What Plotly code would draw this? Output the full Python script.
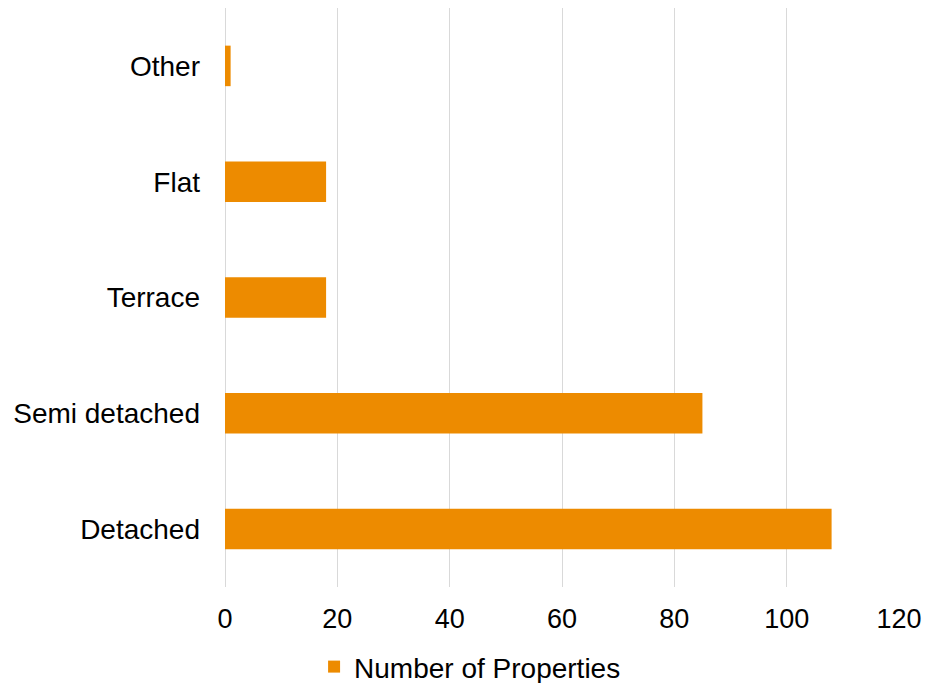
import plotly.graph_objects as go

categories = ["Detached", "Semi detached", "Terrace", "Flat", "Other"]
values = [108, 85, 18, 18, 1]
x_ticks = [0, 20, 40, 60, 80, 100, 120]
series_name = "Number of Properties"

fig = go.Figure()
fig.add_trace(go.Bar(
    y=categories, x=values, orientation="h", name=series_name,
    marker=dict(color="#ED8B00", line=dict(width=0)),
    showlegend=True,
))

fig.update_layout(
    width=915, height=675,
    margin=dict(l=217, r=24, t=0, b=96, autoexpand=False),
    paper_bgcolor="white", plot_bgcolor="white",
    font=dict(family="Liberation Sans, Arial, sans-serif", size=28, color="#000000"),
    bargap=0.65,
    showlegend=True,
    legend=dict(orientation="h", xref="container", x=0.505, xanchor="center",
                yref="paper", y=-0.138, yanchor="middle",
                font=dict(size=28), itemwidth=30, traceorder="normal"),
    xaxis=dict(range=[0, 120], tickvals=x_ticks, showgrid=True, gridcolor="#D9D9D9",
               gridwidth=1, zeroline=True, zerolinecolor="#D9D9D9", zerolinewidth=1,
               showline=False, ticks="", ticklabelstandoff=13, fixedrange=True,
               automargin=False, ticklabeloverflow="allow", tickfont=dict(size=27)),
    yaxis=dict(categoryorder="array", categoryarray=categories, showgrid=False,
               zeroline=False, showline=False, ticks="", ticklabelstandoff=24,
               automargin=False),
)

fig.write_html("out.html")
